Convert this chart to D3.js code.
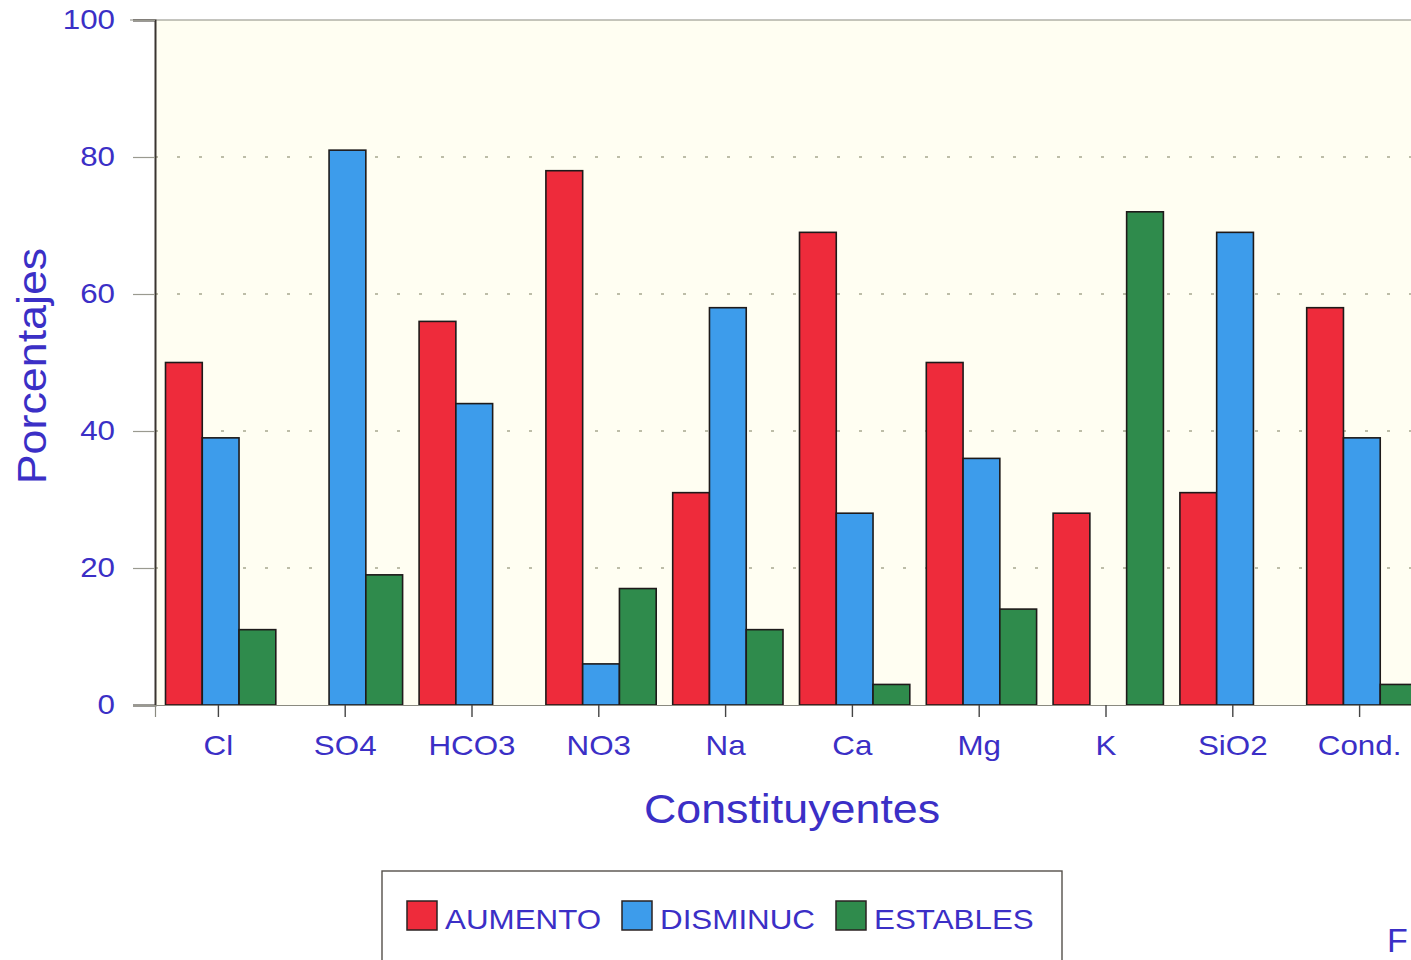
<!DOCTYPE html>
<html>
<head>
<meta charset="utf-8">
<script src="https://cdn.jsdelivr.net/npm/d3@7/dist/d3.min.js"></script>
<style>
  html, body { margin: 0; padding: 0; background: #ffffff; overflow: hidden; }
  svg { display: block; }
  text { font-family: "Liberation Sans", Arial, sans-serif; }
</style>
</head>
<body>
<svg id="chart" width="1411" height="960"></svg>
<script>
// Constituents and percentage of wells per trend
const categories = ["Cl", "SO4", "HCO3", "NO3", "Na", "Ca", "Mg", "K", "SiO2", "Cond."];
const aumento    = [50, 0, 56, 78, 31, 69, 50, 28, 31, 58];
const disminuc   = [39, 81, 44, 6, 58, 28, 36, 0, 69, 39];
const estables   = [11, 19, 0, 17, 11, 3, 14, 72, 0, 3];
const seriesNames = ["AUMENTO", "DISMINUC", "ESTABLES"];
const seriesColors = ["#ee2b3b", "#3d9ceb", "#2f8b4c"];
const yTicks = [0, 20, 40, 60, 80, 100];

const seriesValues = [aumento, disminuc, estables];
const textColor = "#3b2fc6";
const stretch = 1.12;   // wide sans look: horizontal scale on every label

const svg = d3.select("#chart");
const plot = { left: 155, right: 1423, top: 20, bottom: 705 };

const x = d3.scaleBand().domain(categories).range([plot.left, plot.right]).paddingInner(0).paddingOuter(0);
const xSub = d3.scaleBand().domain(d3.range(seriesNames.length))
  .range([10.5, x.bandwidth() - 6]);
const y = d3.scaleLinear().domain([0, 100]).range([plot.bottom, plot.top]);

// plot background
svg.append("rect")
  .attr("x", plot.left).attr("y", plot.top)
  .attr("width", plot.right - plot.left).attr("height", plot.bottom - plot.top)
  .attr("fill", "#fffef2");

// dotted gridlines
svg.append("g").selectAll("line")
  .data(yTicks.filter(d => d > 0 && d < 100))
  .join("line")
  .attr("x1", plot.left).attr("x2", plot.right)
  .attr("y1", d => y(d)).attr("y2", d => y(d))
  .attr("stroke", "#a8a890").attr("stroke-width", 1.6)
  .attr("stroke-dasharray", "3,19");

// top frame line
svg.append("line")
  .attr("x1", 130).attr("x2", plot.right)
  .attr("y1", y(100)).attr("y2", y(100))
  .attr("stroke", "#8a8a80").attr("stroke-width", 1.2);

// bars
const groups = svg.append("g").selectAll("g")
  .data(categories)
  .join("g")
  .attr("transform", d => `translate(${x(d)},0)`);

groups.selectAll("rect")
  .data((c, i) => seriesValues.map((vals, s) => ({ s, v: vals[i] })).filter(d => d.v > 0))
  .join("rect")
  .attr("x", d => xSub(d.s))
  .attr("width", xSub.bandwidth())
  .attr("y", d => y(d.v))
  .attr("height", d => y(0) - y(d.v))
  .attr("fill", d => seriesColors[d.s])
  .attr("stroke", "#1e1a1a").attr("stroke-width", 1.6);

// y axis
const yAxis = d3.axisLeft(y).tickValues(yTicks).tickSize(22).tickPadding(18).tickFormat(d3.format("d"));
const gy = svg.append("g").attr("transform", `translate(${plot.left},0)`).call(yAxis);
gy.select(".domain").attr("stroke", "#3a3530").attr("stroke-width", 2);
gy.selectAll(".tick line").attr("stroke", "#9a9a90").attr("stroke-width", 1.2);
gy.selectAll(".tick text")
  .attr("fill", textColor).attr("font-size", 28)
  .attr("font-family", "Liberation Sans, Arial, sans-serif")
  .attr("x", -40 / stretch)
  .attr("transform", `scale(${stretch},1)`);

// x axis
const xAxis = d3.axisBottom(x).tickSize(12).tickPadding(18);
const gx = svg.append("g").attr("transform", `translate(0,${plot.bottom})`).call(xAxis);
gx.select(".domain").attr("stroke", "#8a8a80").attr("stroke-width", 1.2);
gx.selectAll(".tick line").attr("stroke", "#444").attr("stroke-width", 1.4);
gx.selectAll(".tick text")
  .attr("fill", textColor).attr("font-size", 28)
  .attr("font-family", "Liberation Sans, Arial, sans-serif")
  .attr("transform", `scale(${stretch},1)`);

// axis titles
svg.append("text")
  .attr("transform", `translate(46,366) rotate(-90) scale(${stretch},1)`)
  .attr("text-anchor", "middle")
  .attr("fill", textColor).attr("font-size", 40)
  .text("Porcentajes");

svg.append("text")
  .attr("transform", `translate(792,823) scale(${stretch},1)`)
  .attr("text-anchor", "middle")
  .attr("fill", textColor).attr("font-size", 40)
  .text("Constituyentes");

// legend
const legend = svg.append("g");
legend.append("rect")
  .attr("x", 382).attr("y", 871).attr("width", 680).attr("height", 120)
  .attr("fill", "#ffffff").attr("stroke", "#55504a").attr("stroke-width", 1.4);
const legendX = [407, 622, 836];
const items = legend.selectAll("g.item")
  .data(seriesNames)
  .join("g").attr("class", "item")
  .attr("transform", (d, i) => `translate(${legendX[i]},901)`);
items.append("rect")
  .attr("width", 30).attr("height", 29)
  .attr("fill", (d, i) => seriesColors[i])
  .attr("stroke", "#2a2222").attr("stroke-width", 1.5);
items.append("text")
  .attr("transform", `translate(38,28) scale(${stretch},1)`)
  .attr("fill", textColor).attr("font-size", 28)
  .text(d => d);

// figure caption initial at the bottom-right corner
svg.append("text")
  .attr("x", 1387).attr("y", 952)
  .attr("fill", textColor).attr("font-size", 34)
  .text("F");
</script>
</body>
</html>
